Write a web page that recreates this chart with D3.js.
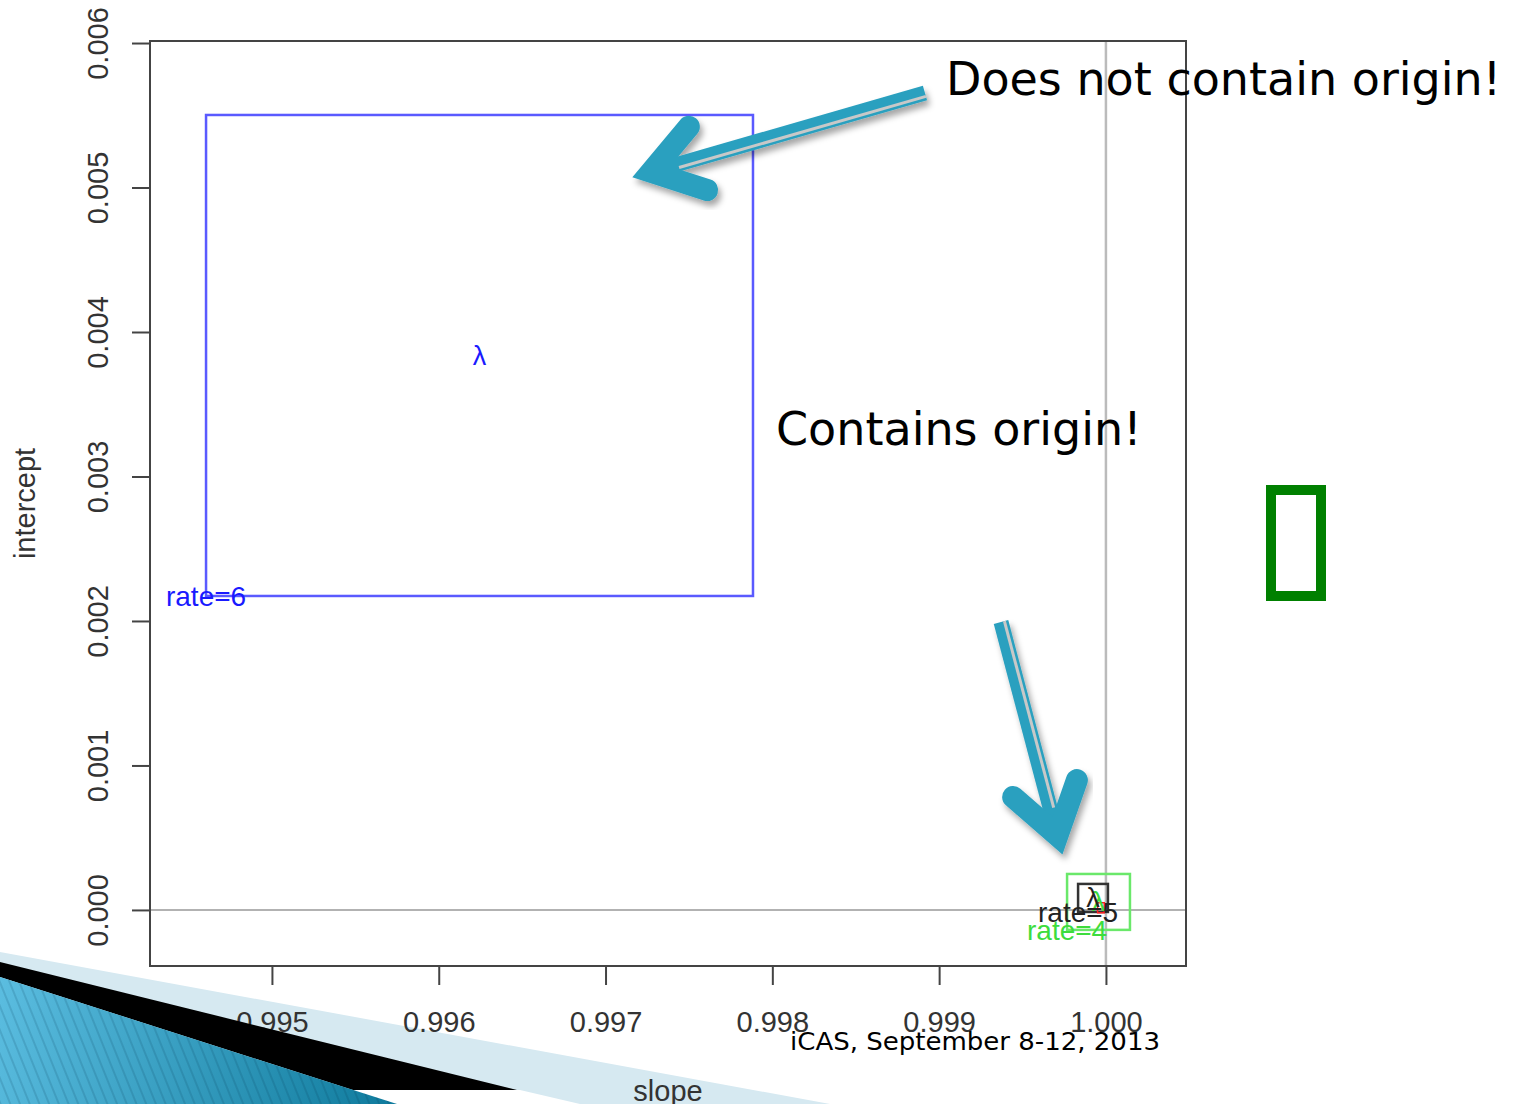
<!DOCTYPE html>
<html>
<head>
  <meta charset="utf-8">
  <title>rate boxes</title>
  <script src="https://d3js.org/d3.v7.min.js"></script>
  <style>
    body { margin: 0; background: #fff; }
    svg { display: block; }
  </style>
</head>
<body>
<script type="text/javascript">
// boxes: one per rate, slope range x intercept range
var rateLabels = ["rate=6", "rate=4", "rate=5", "rate=3"];
var slopeLo   = [0.994605, 0.999767, 0.999833, 0.99995];
var slopeHi   = [0.997884, 1.000144, 1.000012, 0.99999];
var interLo   = [0.002173, -0.000138, -0.000014, -0.00002];
var interHi   = [0.005502, 0.000249, 0.000180, 0.00005];
var boxColors = ["#5a5aff", "#6ae86a", "#333333", "#ff2020"];
var textColors = ["#1a1aff", "#3ddc3d", "#222222", "#ff2020"];
var showLabel = [true, true, true, false];

var xTicks = [0.995, 0.996, 0.997, 0.998, 0.999, 1.000];
var yTicks = [0.000, 0.001, 0.002, 0.003, 0.004, 0.005, 0.006];

var W = 1523, H = 1104;
var svg = d3.select("body").append("svg")
    .attr("width", W)
    .attr("height", H);

var x = d3.scaleLinear().domain([0.994269, 1.000480]).range([150, 1186]);
var y = d3.scaleLinear().domain([-0.000388, 0.006014]).range([966, 41]);

var defs = svg.append("defs");
var grad = defs.append("linearGradient").attr("id", "tealGrad")
    .attr("gradientUnits", "userSpaceOnUse")
    .attr("x1", 0).attr("y1", 980).attr("x2", 400).attr("y2", 1104);
grad.append("stop").attr("offset", "0%").attr("stop-color", "#5bbde0");
grad.append("stop").attr("offset", "100%").attr("stop-color", "#0e7a9c");
var pat = defs.append("pattern").attr("id", "stripes")
    .attr("patternUnits", "userSpaceOnUse")
    .attr("width", 9).attr("height", 40)
    .attr("patternTransform", "rotate(-22)");
pat.append("line").attr("x1", 1).attr("y1", 0).attr("x2", 1).attr("y2", 40)
    .attr("stroke", "rgba(0,45,75,0.22)").attr("stroke-width", 1.3);
var shadow = defs.append("filter").attr("id", "shadow")
    .attr("x", "-20%").attr("y", "-20%").attr("width", "140%").attr("height", "140%");
shadow.append("feDropShadow").attr("dx", 3).attr("dy", 5).attr("stdDeviation", 3)
    .attr("flood-color", "#000").attr("flood-opacity", 0.35);

// slide decoration, back part
svg.append("polygon").attr("points", "0,952 830,1104 0,1104").attr("fill", "#d6e9f1");
svg.append("polygon").attr("points", "350,1090 520,1090 580,1104 350,1104").attr("fill", "#fff");

// reference lines through the origin
svg.append("line")
    .attr("x1", x(1.000)).attr("x2", x(1.000))
    .attr("y1", y.range()[1]).attr("y2", y.range()[0])
    .attr("stroke", "#bbbbbb").attr("stroke-width", 2.5);
svg.append("line")
    .attr("x1", x.range()[0]).attr("x2", x.range()[1])
    .attr("y1", y(0)).attr("y2", y(0))
    .attr("stroke", "#999999").attr("stroke-width", 1.5);

// boxes
var idx = d3.range(rateLabels.length);
svg.selectAll("rect.box").data(idx).enter().append("rect")
    .attr("class", "box")
    .attr("x", function(i) { return x(slopeLo[i]); })
    .attr("y", function(i) { return y(interHi[i]); })
    .attr("width", function(i) { return x(slopeHi[i]) - x(slopeLo[i]); })
    .attr("height", function(i) { return y(interLo[i]) - y(interHi[i]); })
    .attr("fill", "none")
    .attr("stroke", function(i) { return boxColors[i]; })
    .attr("stroke-width", function(i) { return i == 3 ? 1.5 : 2.5; });

svg.selectAll("text.lam").data(idx.filter(function(i) { return showLabel[i]; })).enter().append("text")
    .attr("class", "lam")
    .attr("x", function(i) { return x((slopeLo[i] + slopeHi[i]) / 2); })
    .attr("y", function(i) { return y((interLo[i] + interHi[i]) / 2); })
    .attr("dy", "0.35em")
    .attr("text-anchor", "middle")
    .attr("font-family", "Liberation Sans, Arial, sans-serif")
    .attr("font-size", 27)
    .attr("fill", function(i) { return textColors[i]; })
    .text("λ");

svg.selectAll("text.rate").data(idx.filter(function(i) { return showLabel[i]; })).enter().append("text")
    .attr("class", "rate")
    .attr("x", function(i) { return x(slopeLo[i]); })
    .attr("y", function(i) { return y(interLo[i]); })
    .attr("dy", "0.36em")
    .attr("text-anchor", "middle")
    .attr("font-family", "Liberation Sans, Arial, sans-serif")
    .attr("font-size", 28)
    .attr("fill", function(i) { return textColors[i]; })
    .text(function(i) { return rateLabels[i]; });

// axes
var xAxis = svg.append("g")
    .attr("transform", "translate(0," + y.range()[0] + ")")
    .call(d3.axisBottom(x).tickValues(xTicks).tickSize(19).tickFormat(d3.format(".3f")));
var yAxis = svg.append("g")
    .attr("transform", "translate(" + x.range()[0] + ",0)")
    .call(d3.axisLeft(y).tickValues(yTicks).tickSize(18).tickFormat(d3.format(".3f")));
[xAxis, yAxis].forEach(function(g) {
  g.select(".domain").remove();
  g.selectAll("line").attr("stroke", "#444").attr("stroke-width", 2);
  g.selectAll("text")
    .attr("font-family", "Liberation Sans, Arial, sans-serif")
    .attr("font-size", 29)
    .attr("fill", "#333");
});
xAxis.selectAll("text").attr("y", 66).attr("dy", 0);
yAxis.selectAll("text")
    .attr("x", 0).attr("dy", 0)
    .attr("text-anchor", "middle")
    .attr("transform", "translate(-42,0) rotate(-90)");

svg.append("rect")
    .attr("x", x.range()[0]).attr("y", y.range()[1])
    .attr("width", x.range()[1] - x.range()[0])
    .attr("height", y.range()[0] - y.range()[1])
    .attr("fill", "none").attr("stroke", "#444").attr("stroke-width", 2);

svg.append("text")
    .attr("x", (x.range()[0] + x.range()[1]) / 2).attr("y", 1101)
    .attr("text-anchor", "middle")
    .attr("font-family", "Liberation Sans, Arial, sans-serif")
    .attr("font-size", 29).attr("fill", "#333")
    .text("slope");
svg.append("text")
    .attr("transform", "translate(35," + (y.range()[0] + y.range()[1]) / 2 + ") rotate(-90)")
    .attr("text-anchor", "middle")
    .attr("font-family", "Liberation Sans, Arial, sans-serif")
    .attr("font-size", 29).attr("fill", "#333")
    .text("intercept");

// slide decoration, front part
svg.append("polygon").attr("points", "0,962 517,1090 353,1090 0,977").attr("fill", "#000");
svg.append("polygon").attr("points", "0,977 397,1104 0,1104").attr("fill", "url(#tealGrad)");
svg.append("polygon").attr("points", "0,977 397,1104 0,1104").attr("fill", "url(#stripes)");

// annotation arrows, given in data units
function arrow(from, to) {
  var x0 = x(from[0]), y0 = y(from[1]), x1 = x(to[0]), y1 = y(to[1]);
  var dx = x1 - x0, dy = y1 - y0, len = Math.sqrt(dx * dx + dy * dy);
  var ux = dx / len, uy = dy / len;
  var back = Math.atan2(-uy, -ux), armLen = 78, spread = 25 * Math.PI / 180;
  var a1 = [x1 + armLen * Math.cos(back - spread), y1 + armLen * Math.sin(back - spread)];
  var a2 = [x1 + armLen * Math.cos(back + spread), y1 + armLen * Math.sin(back + spread)];
  var vx = x1 - ux * 22, vy = y1 - uy * 22;
  var g = svg.append("g").attr("filter", "url(#shadow)");
  g.append("line")
    .attr("x1", x0).attr("y1", y0).attr("x2", vx).attr("y2", vy)
    .attr("stroke", "#2ba0bf").attr("stroke-width", 15);
  g.append("path")
    .attr("d", "M" + a1 + "L" + [vx, vy] + "L" + a2)
    .attr("fill", "none").attr("stroke", "#2ba0bf").attr("stroke-width", 22)
    .attr("stroke-linecap", "round").attr("stroke-linejoin", "miter").attr("stroke-miterlimit", 10);
  var ox = uy * 3.5, oy = -ux * 3.5;
  svg.append("line")
    .attr("x1", x0 + ox).attr("y1", y0 + oy)
    .attr("x2", x1 - ux * 50 + ox).attr("y2", y1 - uy * 50 + oy)
    .attr("stroke", "#c8c8c8").attr("stroke-width", 3);
}
arrow([0.998915, 0.005654], [0.997147, 0.005066]);
arrow([0.999371, 0.001993], [0.999743, 0.000367]);

// slide text
svg.append("text").attr("x", 946).attr("y", 95)
    .attr("font-family", "DejaVu Sans, sans-serif").attr("font-size", 46).attr("fill", "#000")
    .text("Does not contain origin!");
svg.append("text").attr("x", 776).attr("y", 445)
    .attr("font-family", "DejaVu Sans, sans-serif").attr("font-size", 46).attr("fill", "#000")
    .text("Contains origin!");
svg.append("rect")
    .attr("x", 1271).attr("y", 490).attr("width", 50).attr("height", 106)
    .attr("fill", "none").attr("stroke", "#008000").attr("stroke-width", 10);
svg.append("text").attr("x", 790).attr("y", 1050)
    .attr("font-family", "DejaVu Sans Condensed, DejaVu Sans, sans-serif").attr("font-size", 24)
    .attr("textLength", 370).attr("lengthAdjust", "spacingAndGlyphs")
    .attr("fill", "#000")
    .text("iCAS, September 8-12, 2013");
</script>
</body>
</html>
